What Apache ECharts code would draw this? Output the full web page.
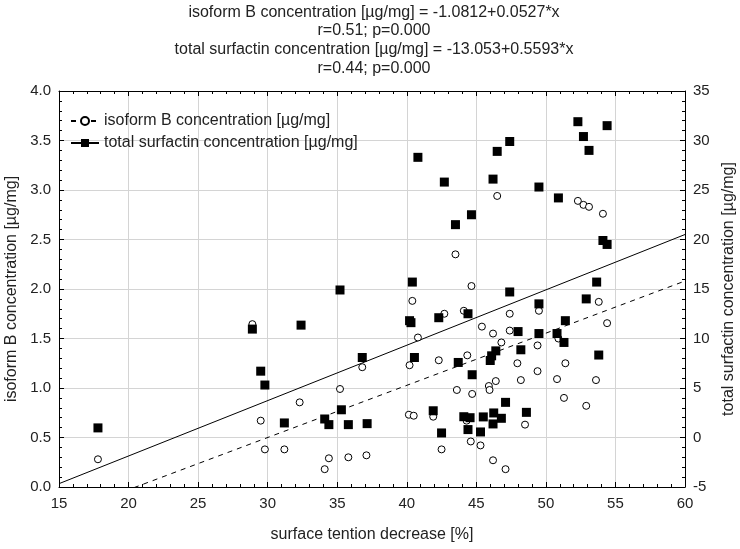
<!DOCTYPE html>
<html>
<head>
<meta charset="utf-8">
<script src="https://cdn.jsdelivr.net/npm/echarts@6/dist/echarts.min.js"></script>
<style>
  html, body { margin: 0; padding: 0; background: #fff; }
  #chart { width: 740px; height: 549px; }
</style>
</head>
<body>
<div id="chart"></div>
<script>
// isoform B concentration [µg/mg] (left axis) : [surface tension decrease, value]
const isoformB = [
  [17.8, 0.28], [28.9, 1.645], [29.5, 0.67], [29.8, 0.38], [31.2, 0.38], [32.3, 0.855],
  [34.1, 0.18], [34.4, 0.29], [35.2, 0.99], [35.8, 0.30], [36.8, 1.21], [37.1, 0.32],
  [40.2, 1.23], [40.15, 0.73], [40.4, 1.88], [40.5, 0.72], [40.8, 1.51], [41.9, 0.71],
  [42.3, 1.28], [42.5, 0.38], [42.7, 1.75], [43.5, 2.35], [43.6, 0.98], [44.1, 1.78],
  [44.3, 0.67], [44.35, 1.33], [44.6, 0.46], [44.65, 2.03], [44.7, 0.94], [45.3, 0.42],
  [45.4, 1.62], [45.9, 1.02], [45.95, 0.98], [46.2, 1.55], [46.2, 0.27], [46.4, 1.07],
  [46.5, 2.94], [46.8, 1.46], [47.1, 0.18], [47.4, 1.75], [47.4, 1.58], [47.95, 1.25],
  [48.2, 1.08], [48.5, 0.63], [49.4, 1.43], [49.4, 1.17], [49.5, 1.78], [50.8, 1.09],
  [50.9, 1.50], [51.3, 0.90], [51.4, 1.25], [52.3, 2.89], [52.7, 2.85], [52.9, 0.82],
  [53.1, 2.83], [53.6, 1.08], [53.8, 1.87], [54.1, 2.76], [54.4, 1.655]
]
// total surfactin concentration [µg/mg] (right axis)
const surfactin = [
  [17.8, 0.97], [28.9, 10.95], [29.5, 6.7], [29.8, 5.3], [31.2, 1.47], [32.4, 11.35],
  [34.1, 1.87], [34.4, 1.3], [35.2, 14.9], [35.3, 2.8], [35.8, 1.3], [36.8, 8.08],
  [37.15, 1.4], [40.2, 11.8], [40.3, 11.6], [40.4, 15.7], [40.55, 8.08], [40.8, 28.3],
  [41.9, 2.7], [42.3, 12.1], [42.5, 0.46], [42.7, 25.8], [43.5, 21.5], [43.7, 7.58],
  [44.1, 2.1], [44.4, 12.5], [44.4, 0.8], [44.55, 2.0], [44.65, 22.5], [44.7, 6.34],
  [45.3, 0.56], [45.5, 2.08], [46.0, 7.78], [46.1, 8.25], [46.2, 26.1], [46.2, 1.37],
  [46.25, 2.48], [46.4, 8.75], [46.5, 28.9], [46.8, 1.94], [47.1, 3.55], [47.4, 29.9],
  [47.4, 14.7], [48.0, 10.7], [48.2, 8.86], [48.6, 2.54], [49.5, 25.3], [49.5, 13.5],
  [49.5, 10.5], [50.8, 10.5], [50.9, 24.2], [51.3, 9.6], [51.4, 11.8], [52.3, 31.9],
  [52.7, 30.4], [52.9, 14.0], [53.1, 29.0], [53.65, 15.7], [53.8, 8.33], [54.1, 19.9],
  [54.4, 19.5], [54.4, 31.5]
]
// regression coefficients [intercept, slope] as printed in the title
const isoFit = [-1.0812, 0.0527]
const surfFit = [-13.053, 0.5593]
const xRange = [15, 60]

const isoName = 'isoform B concentration [µg/mg]'
const surfName = 'total surfactin concentration [µg/mg]'
const titleLines = [
  'isoform B concentration [µg/mg] = -1.0812+0.0527*x',
  'r=0.51; p=0.000',
  'total surfactin concentration [µg/mg] = -13.053+0.5593*x',
  'r=0.44; p=0.000'
]

const fitLine = (c) => xRange.map(x => [x, c[0] + c[1] * x])
const font = 'Liberation Sans, Arial, sans-serif'

let chart = echarts.init(document.getElementById('chart'), null, { renderer: 'canvas' })

//坐标轴公共样式
const tickStyle = {
  axisLine: { show: true, onZero: false, lineStyle: { color: '#000', width: 1 } },
  axisTick: { show: true, inside: true, length: 5, lineStyle: { color: '#000' } },
  minorTick: { show: true, splitNumber: 5, length: 3, lineStyle: { color: '#000' } },
  axisLabel: { color: '#222', fontSize: 15, fontFamily: font }
}
const nameStyle = { fontSize: 16, color: '#222', fontFamily: font }

chart.setOption({
  animation: false,
  backgroundColor: '#fff',
  title: {
    text: titleLines.join('\n'),
    left: 374,
    top: 3,
    padding: 0,
    textAlign: 'center',
    textStyle: { fontSize: 16, fontWeight: 'normal', color: '#222', fontFamily: font, lineHeight: 18.7 }
  },
  legend: {
    orient: 'vertical',
    left: 70,
    top: 113,
    padding: 0,
    itemWidth: 28,
    itemHeight: 10,
    itemGap: 6,
    textStyle: { fontSize: 16, color: '#222', fontFamily: font },
    data: [isoName, surfName]
  },
  grid: { left: 59, right: 55, top: 91, bottom: 62, outerBoundsMode: 'none', containLabel: false },
  xAxis: [
    {
      type: 'value', min: 15, max: 60, interval: 5,
      name: 'surface tention decrease [%]',
      nameLocation: 'middle', nameGap: 40,
      nameTextStyle: nameStyle,
      ...tickStyle,
      axisLabel: { ...tickStyle.axisLabel, margin: 9 },
      splitLine: { show: true, lineStyle: { color: '#d4d4d4' } }
    },
    {
      type: 'value', min: 15, max: 60, interval: 5, position: 'top',
      ...tickStyle,
      axisLabel: { show: false },
      splitLine: { show: false }
    }
  ],
  yAxis: [
    {
      type: 'value', min: 0, max: 4, interval: 0.5,
      name: isoName,
      nameLocation: 'middle', nameGap: 35,
      nameTextStyle: nameStyle,
      ...tickStyle,
      axisLabel: { ...tickStyle.axisLabel, formatter: v => v.toFixed(1), margin: 8 },
      splitLine: { show: true, lineStyle: { color: '#d4d4d4' } }
    },
    {
      type: 'value', min: -5, max: 35, interval: 5, position: 'right',
      name: surfName,
      nameLocation: 'middle', nameGap: 27, nameRotate: 90,
      nameTextStyle: nameStyle,
      ...tickStyle,
      axisLabel: { ...tickStyle.axisLabel, margin: 8 },
      splitLine: { show: false }
    }
  ],
  series: [
    //回归直线（放在前面，图例取其图标）
    {
      name: isoName, type: 'line', xAxisIndex: 0, yAxisIndex: 0,
      data: fitLine(isoFit), clip: true, showSymbol: false,
      symbol: 'emptyCircle', symbolSize: 7,
      lineStyle: { color: '#000', width: 1, type: [5, 5] },
      itemStyle: { color: '#000', borderColor: '#000' },
      z: 3
    },
    {
      name: surfName, type: 'line', xAxisIndex: 0, yAxisIndex: 1,
      data: fitLine(surfFit), clip: true, showSymbol: false,
      symbol: 'rect', symbolSize: 9,
      lineStyle: { color: '#000', width: 1 },
      itemStyle: { color: '#000' },
      z: 3
    },
    //散点
    {
      name: isoName, type: 'scatter', xAxisIndex: 0, yAxisIndex: 0,
      data: isoformB, symbol: 'circle', symbolSize: 7,
      itemStyle: { color: '#fff', borderColor: '#000', borderWidth: 1, opacity: 1 },
      z: 4
    },
    {
      name: surfName, type: 'scatter', xAxisIndex: 0, yAxisIndex: 1,
      data: surfactin, symbol: 'rect', symbolSize: 9,
      itemStyle: { color: '#000', opacity: 1 },
      z: 5
    }
  ]
})
</script>
</body>
</html>
